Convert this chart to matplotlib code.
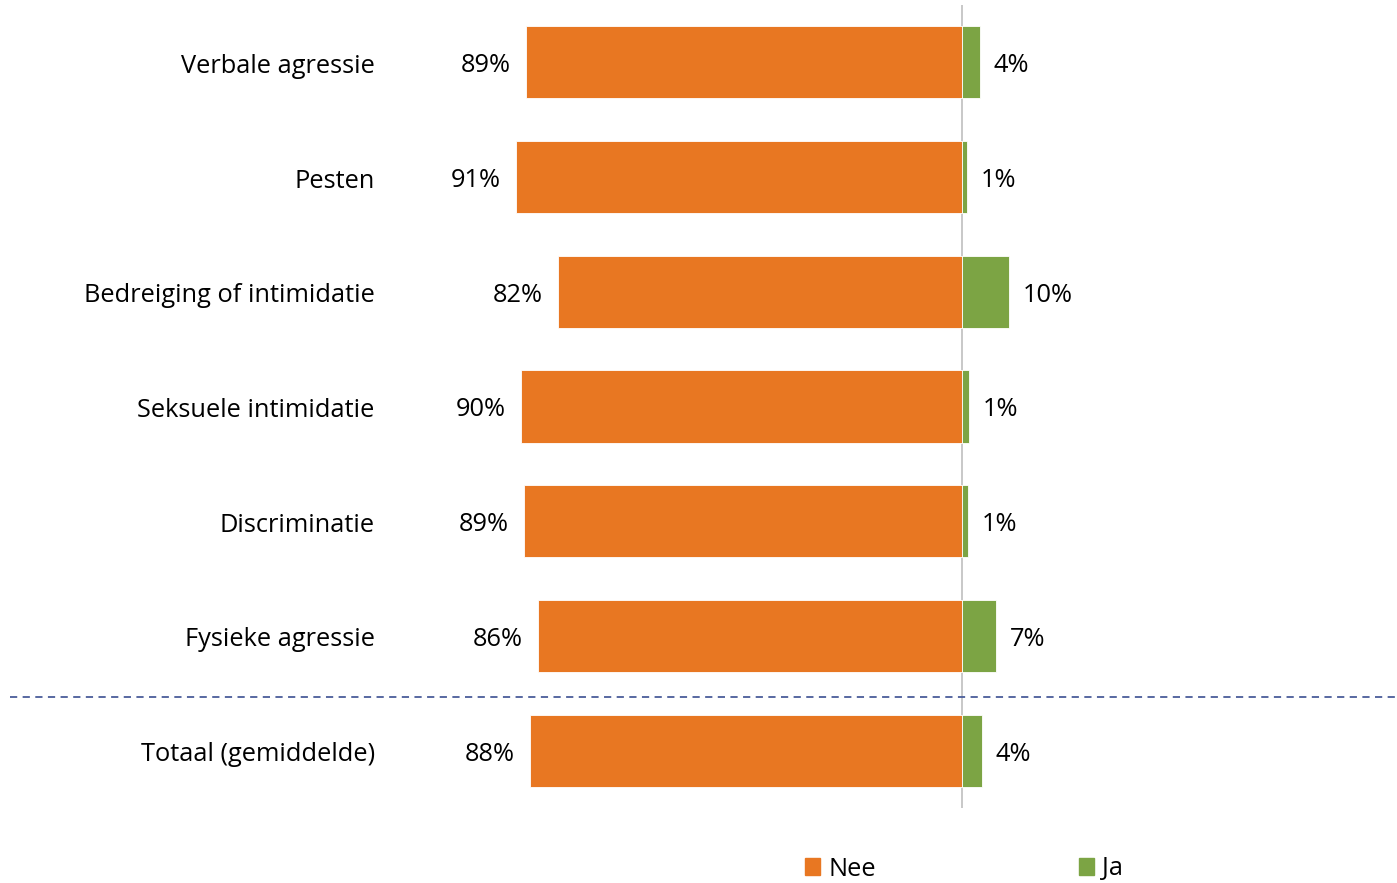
import matplotlib.pyplot as plt
import matplotlib.patches as mpatches
import matplotlib.transforms as mtransforms

plt.rcParams['font.family'] = ['Open Sans', 'DejaVu Sans']

# Data
categories = ["Verbale agressie", "Pesten", "Bedreiging of intimidatie",
              "Seksuele intimidatie", "Discriminatie", "Fysieke agressie",
              "Totaal (gemiddelde)"]
nee = [89.1, 91.3, 82.6, 90.2, 89.5, 86.8, 88.4]
ja = [3.7, 1, 9.6, 1.4, 1.2, 6.9, 4]
nee_labels = ["89%", "91%", "82%", "90%", "89%", "86%", "88%"]
ja_labels = ["4%", "1%", "10%", "1%", "1%", "7%", "4%"]

orange = "#E87722"
green = "#7CA444"
fs = 18.3

W, H = 1397, 883
fig = plt.figure(figsize=(W / 100, H / 100), dpi=100)

L, R, T, B = 390, 1397, 5, 808
center = 962
px_per = 4.89
ax = fig.add_axes([L / W, 1 - B / H, (R - L) / W, (B - T) / H])

ypos = list(range(len(categories)))
neg = [-v for v in nee]
ax.barh(ypos, neg, height=0.63, color=orange, edgecolor="white", linewidth=0.6)
ax.barh(ypos, ja, height=0.63, color=green, edgecolor="white", linewidth=0.6)

for y, v, lab in zip(ypos, neg, nee_labels):
    ax.annotate(lab, (v, y), xytext=(-11, -2.5), textcoords="offset points",
                ha="right", va="center", fontsize=fs, color="black")
for y, v, lab in zip(ypos, ja, ja_labels):
    ax.annotate(lab, (v, y), xytext=(10, -2.5), textcoords="offset points",
                ha="left", va="center", fontsize=fs, color="black")

ax.axvline(0, color="#BFBFBF", linewidth=1.2, zorder=0)

ax.set_xlim(-(center - L) / px_per, (R - center) / px_per)
ax.set_ylim(len(categories) - 0.5, -0.5)
ax.set_yticks(ypos)
ax.set_yticklabels(categories, fontsize=fs, va="center")
ax.tick_params(axis="y", length=0, pad=11)
shift = mtransforms.ScaledTranslation(0, -4 / 100, fig.dpi_scale_trans)
for t in ax.get_yticklabels():
    t.set_transform(t.get_transform() + shift)
ax.set_xticks([])
for s in ax.spines.values():
    s.set_visible(False)

# dashed separator above the total row
fig.add_artist(plt.Line2D([10 / W, 1], [1 - 697 / H, 1 - 697 / H],
                          transform=fig.transFigure, color="#4A5D9A",
                          linestyle=(0, (4, 3)), linewidth=1.3))

handles = [mpatches.Patch(color=orange, label="Nee"),
           mpatches.Patch(color=green, label="Ja")]
fig.legend(handles=handles, loc="center", bbox_to_anchor=(964 / W, 1 - 869 / H),
           ncol=2, frameon=False, fontsize=fs, handlelength=0.6,
           handleheight=0.6, handletextpad=0.3, columnspacing=8.0,
           borderpad=0.2)

fig.savefig("out.png", dpi=100)
